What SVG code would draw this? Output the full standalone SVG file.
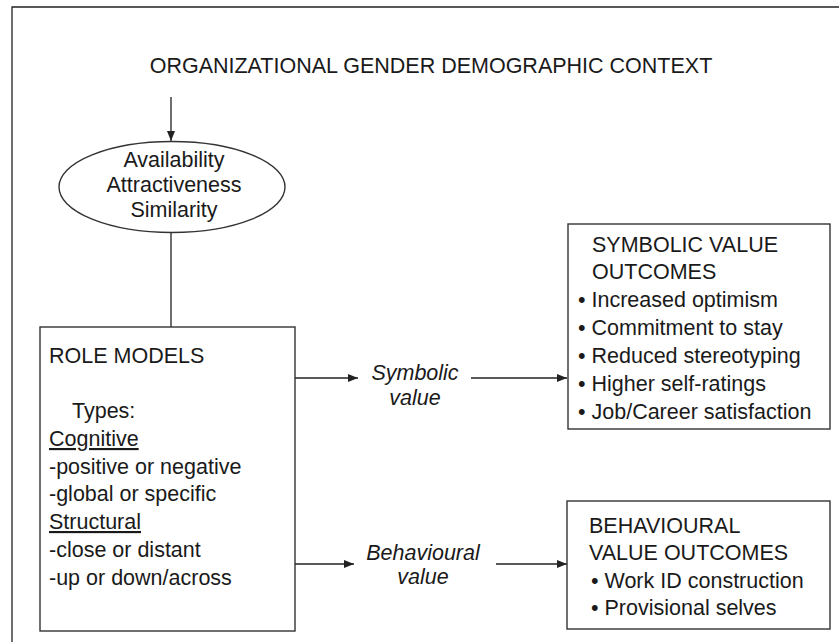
<svg xmlns="http://www.w3.org/2000/svg" width="839" height="642" viewBox="0 0 839 642">
<style>
text{font-family:"Liberation Sans",Arial,sans-serif;font-size:21.5px;fill:#1a1a1a}
.it{font-style:italic}
.c{text-anchor:middle}
.ln{stroke:#222;stroke-width:1.3;fill:none}
.bx{stroke:#333;stroke-width:1.4;fill:#fff}
</style>
<defs>
<marker id="ah" viewBox="0 0 10 8" refX="10" refY="4" markerWidth="10" markerHeight="8" markerUnits="userSpaceOnUse" orient="auto">
<path d="M0,0 L10,4 L0,8 z" fill="#222"/>
</marker>
</defs>
<rect width="839" height="642" fill="#fff"/>
<g id="frame">
<path class="ln" d="M12,642 V7 H839" stroke-width="1.6"/>
</g>
<g id="connectors">
<line class="ln" x1="171" y1="97" x2="171" y2="141" marker-end="url(#ah)"/>
<line class="ln" x1="171" y1="232" x2="171" y2="327"/>
<line class="ln" x1="295" y1="378" x2="358" y2="378" marker-end="url(#ah)"/>
<line class="ln" x1="471" y1="378" x2="567" y2="378" marker-end="url(#ah)"/>
<line class="ln" x1="295" y1="564" x2="354" y2="564" marker-end="url(#ah)"/>
<line class="ln" x1="496" y1="564" x2="567" y2="564" marker-end="url(#ah)"/>
</g>
<g id="title">
<text class="c" x="431" y="73">ORGANIZATIONAL GENDER DEMOGRAPHIC CONTEXT</text>
</g>
<g id="factors">
<ellipse class="bx" cx="172" cy="187" rx="113" ry="45.5"/>
<text class="c" x="174" y="167">Availability</text>
<text class="c" x="174" y="192">Attractiveness</text>
<text class="c" x="174" y="217">Similarity</text>
</g>
<g id="role-models">
<rect class="bx" x="40" y="327" width="255" height="304"/>
<text x="49" y="363">ROLE MODELS</text>
<text x="72" y="418">Types:</text>
<text x="49" y="446" text-decoration="underline">Cognitive</text>
<text x="49" y="474">-positive or negative</text>
<text x="49" y="501">-global or specific</text>
<text x="49" y="529" text-decoration="underline">Structural</text>
<text x="49" y="557">-close or distant</text>
<text x="49" y="585">-up or down/across</text>
</g>
<g id="symbolic-label">
<text class="it c" x="415" y="380">Symbolic</text>
<text class="it c" x="415" y="405">value</text>
</g>
<g id="behavioural-label">
<text class="it c" x="423" y="560">Behavioural</text>
<text class="it c" x="423" y="584">value</text>
</g>
<g id="symbolic-outcomes">
<rect class="bx" x="568" y="224" width="262" height="205"/>
<text x="592" y="252">SYMBOLIC VALUE</text>
<text x="592" y="279">OUTCOMES</text>
<text x="578" y="307">• Increased optimism</text>
<text x="578" y="335">• Commitment to stay</text>
<text x="578" y="363">• Reduced stereotyping</text>
<text x="578" y="391">• Higher self-ratings</text>
<text x="578" y="419">• Job/Career satisfaction</text>
</g>
<g id="behavioural-outcomes">
<rect class="bx" x="567" y="501" width="263" height="128"/>
<text x="589" y="533">BEHAVIOURAL</text>
<text x="589" y="560">VALUE OUTCOMES</text>
<text x="591" y="588">• Work ID construction</text>
<text x="591" y="615">• Provisional selves</text>
</g>
</svg>
